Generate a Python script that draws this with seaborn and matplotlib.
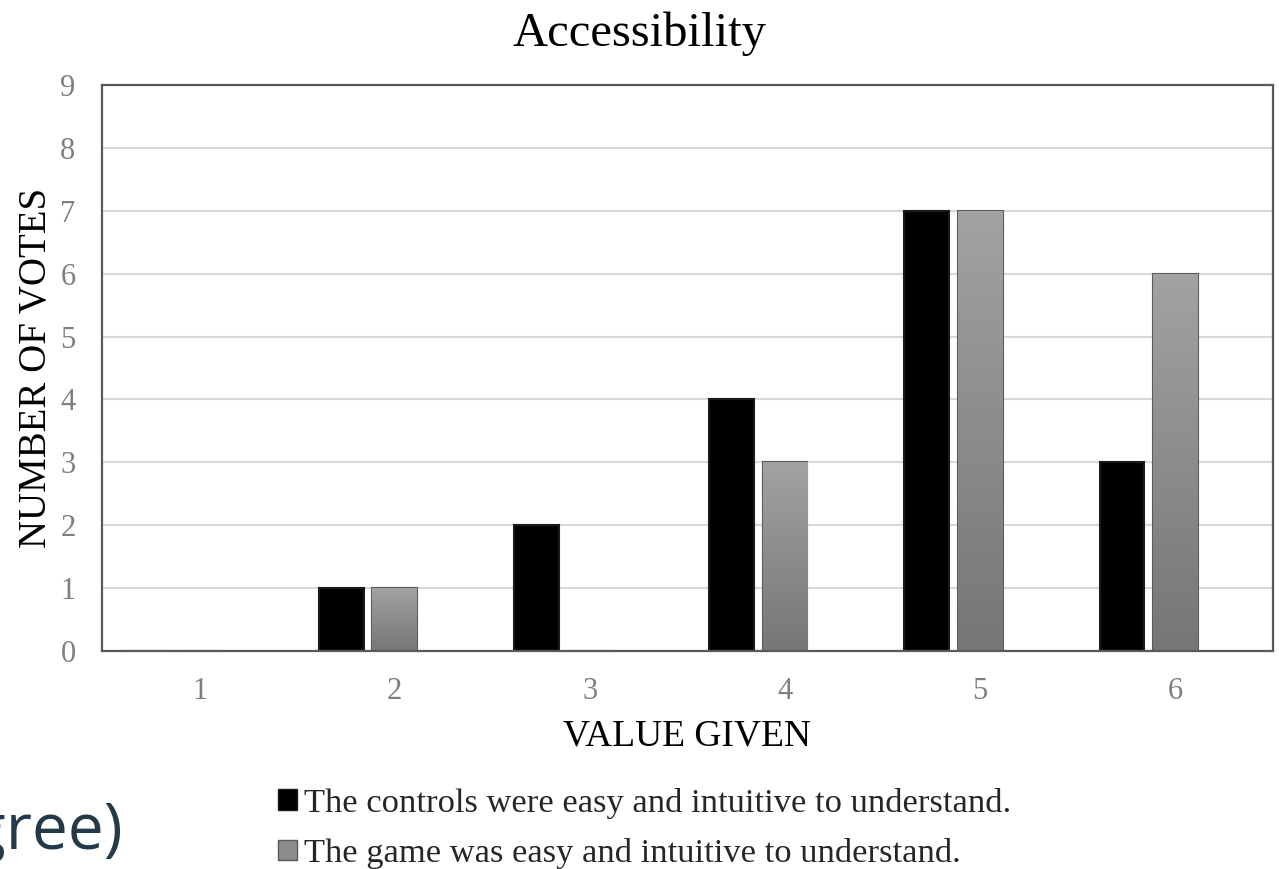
import numpy as np
import pandas as pd
import matplotlib
matplotlib.use('Agg')
import matplotlib.pyplot as plt
import seaborn as sns
from matplotlib.patches import Patch
from matplotlib.colors import LinearSegmentedColormap

# data
values = ['1', '2', '3', '4', '5', '6']
controls_votes = [0, 1, 2, 4, 7, 3]
game_votes = [0, 1, 0, 3, 7, 6]
series_names = ['The controls were easy and intuitive to understand.',
                'The game was easy and intuitive to understand.']
y_ticks = list(range(0, 10))

sns.set_theme(style='white')
plt.rcParams['font.family'] = ['Liberation Serif', 'DejaVu Serif']

df = pd.DataFrame({
    'value': values * 2,
    'votes': controls_votes + game_votes,
    'series': [series_names[0]] * len(values) + [series_names[1]] * len(values),
})

# third (empty) slot keeps the grey bar centred on the tick, like the source chart
hue_order = series_names + ['empty']
palette = {series_names[0]: '#000000', series_names[1]: '#8c8c8c', 'empty': '#ffffff'}

fig = plt.figure(figsize=(12.79, 8.69), dpi=100)
ax = fig.add_axes([0.0797, 0.251, 0.9953 - 0.0797, 0.902 - 0.251])

sns.barplot(data=df, x='value', y='votes', hue='series', order=values,
            hue_order=hue_order, palette=palette, width=0.82, gap=0.16,
            errorbar=None, legend=False, ax=ax, linewidth=1.5, saturation=1)

# outlines + gradient fill for the grey bars
grad = LinearSegmentedColormap.from_list('g', ['#767676', '#a2a2a2'])
for p in ax.patches:
    fc = p.get_facecolor()
    if fc[0] < 0.05:
        p.set_edgecolor('#1a1a1a')
    else:
        p.set_edgecolor('#5a5a5a')
        x0, y0 = p.get_x(), p.get_y()
        w, h = p.get_width(), p.get_height()
        if h > 0:
            im = ax.imshow(np.linspace(0, 1, 100).reshape(-1, 1), cmap=grad,
                           origin='lower', aspect='auto',
                           extent=[x0, x0 + w, y0, y0 + h], zorder=p.get_zorder())
            im.set_clip_path(p)

ax.set_xlim(-0.5, len(values) - 0.5)
ax.set_ylim(0, 9)
ax.set_yticks(y_ticks)
ax.yaxis.grid(True, color='#d9d9d9', linewidth=1.5)
ax.set_axisbelow(True)
for s in ax.spines.values():
    s.set_visible(True)
    s.set_color('#5a5a5a')
    s.set_linewidth(1.6)

ax.tick_params(axis='both', length=0, labelsize=22, labelcolor='#7f7f7f', pad=19)
ax.set_xlabel('VALUE GIVEN', fontsize=27, color='black', labelpad=9)
ax.set_ylabel('NUMBER OF VOTES', fontsize=28, color='black', labelpad=4)

fig.text(0.5, 1 - 46 / 869, 'Accessibility', fontsize=35, ha='center',
         va='baseline', color='black')

handles = [Patch(facecolor='#000000', edgecolor='#1a1a1a', label=series_names[0]),
           Patch(facecolor='#8c8c8c', edgecolor='#5a5a5a', label=series_names[1])]
fig.legend(handles=handles, loc='upper left', bbox_to_anchor=(278 / 1279, 1 - 788 / 869),
           frameon=False, fontsize=24.8, handlelength=0.55, handleheight=0.55,
           handletextpad=0.2, labelspacing=0.56, borderaxespad=0, borderpad=0)

# leftover text from the slide behind the chart
fig.text(122 / 1279, 1 - 849 / 869, 'gree)', fontsize=46, ha='right', va='baseline',
         color='#243a48', fontfamily='Open Sans')

fig.savefig('out.png', dpi=100)
